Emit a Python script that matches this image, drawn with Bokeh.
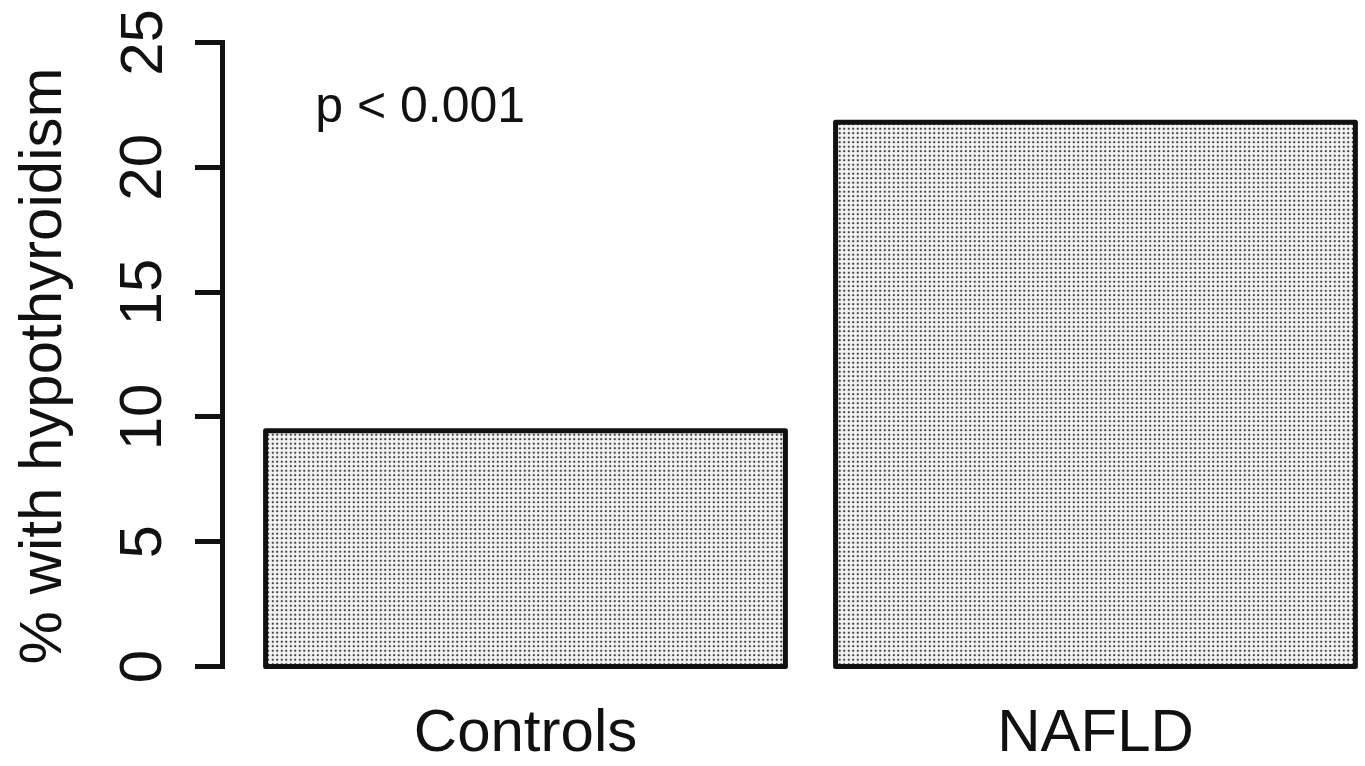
from bokeh.plotting import figure
from bokeh.models import Range1d, FixedTicker, Label
from bokeh.embed import file_html
from bokeh.resources import INLINE

# ---- data ----
categories = ["Controls", "NAFLD"]
percent_hypothyroidism = [9.45, 21.8]
bar_positions = [1, 2]
y_ticks = [0, 5, 10, 15, 20, 25]
y_axis_title = "% with hypothyroidism"
p_value_text = "p < 0.001"

# ---- styling / layout constants ----
FONT = "Liberation Sans"
INK = "#111111"
BAR_WIDTH = 0.912
P_LABEL_X = 0.631
P_LABEL_Y = 22.5

p = figure(
    width=1365, height=766,
    output_backend="svg", toolbar_location=None,
    x_range=Range1d(0.4684, 2.4737), y_range=Range1d(-1.2, 25.28),
    min_border_left=222, min_border_right=0, min_border_top=35, min_border_bottom=0,
)
p.grid.visible = False
p.outline_line_color = None
p.background_fill_color = "white"
p.border_fill_color = "white"

p.vbar(
    x=bar_positions, top=percent_hypothyroidism, bottom=0, width=BAR_WIDTH,
    fill_color="#f4f4f4", line_color=INK, line_width=5, line_join="round",
    hatch_pattern="dot", hatch_color="#3a3a3a", hatch_scale=4.5, hatch_weight=2.8,
)

# y axis
ya = p.yaxis[0]
ya.ticker = FixedTicker(ticks=y_ticks)
ya.bounds = (0, 25)
ya.axis_line_width = 5
ya.axis_line_color = INK
ya.axis_line_cap = "square"
ya.major_tick_line_width = 5
ya.major_tick_line_color = INK
ya.major_tick_line_cap = "square"
ya.major_tick_out = 25
ya.major_tick_in = 0
ya.minor_tick_line_color = None
ya.major_label_orientation = "vertical"
ya.major_label_text_font = FONT
ya.major_label_text_font_size = "60px"
ya.major_label_text_color = INK
ya.major_label_standoff = 36
ya.axis_label = y_axis_title
ya.axis_label_text_font = FONT
ya.axis_label_text_font_size = "60px"
ya.axis_label_text_font_style = "normal"
ya.axis_label_text_color = INK
ya.axis_label_standoff = 44

# x axis
xa = p.xaxis[0]
xa.ticker = FixedTicker(ticks=bar_positions)
xa.major_label_overrides = {pos: name for pos, name in zip(bar_positions, categories)}
xa.axis_line_color = None
xa.major_tick_line_color = None
xa.minor_tick_line_color = None
xa.major_tick_out = 0
xa.major_tick_in = 0
xa.major_label_standoff = 0
xa.major_label_text_font = FONT
xa.major_label_text_font_size = "60px"
xa.major_label_text_color = INK

p.add_layout(Label(
    x=P_LABEL_X, y=P_LABEL_Y, text=p_value_text,
    text_font=FONT, text_font_size="50px", text_color=INK,
    text_align="left", text_baseline="alphabetic",
))

open("out.html", "w").write(file_html(p, INLINE))
